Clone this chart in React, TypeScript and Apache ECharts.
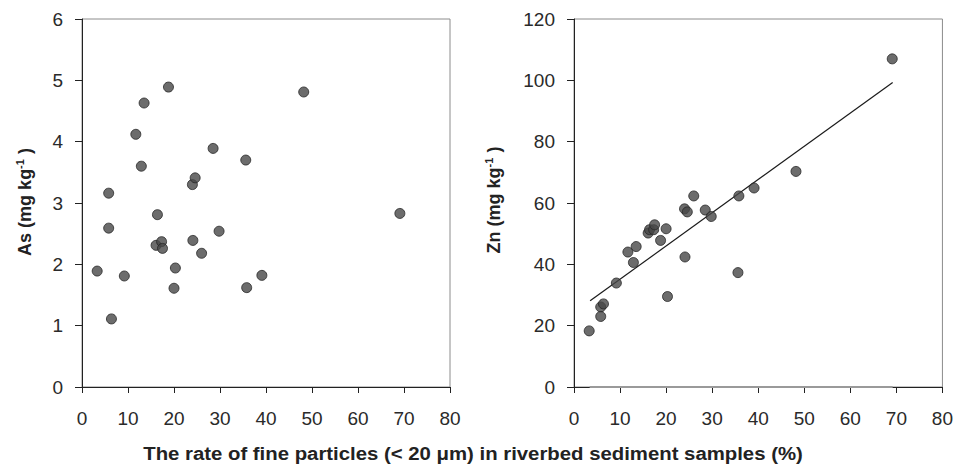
import React, { useEffect, useRef } from "react";
import * as echarts from "echarts";

// Fine-particle rate (%) of each riverbed sediment sample
const fineRate = [3.3, 5.8, 5.8, 6.4, 9.2, 11.7, 12.9, 13.5, 16.1, 16.4, 17.3, 17.5, 18.8, 20.0, 20.3, 24.0, 24.1, 24.6, 26.0, 28.5, 29.8, 35.6, 35.8, 39.1, 48.2, 69.1];
// As (mg kg-1)
const asValues = [1.89, 3.16, 2.59, 1.11, 1.81, 4.12, 3.6, 4.63, 2.31, 2.81, 2.37, 2.26, 4.89, 1.61, 1.94, 3.3, 2.39, 3.41, 2.18, 3.89, 2.54, 3.7, 1.62, 1.82, 4.81, 2.83];
// Zn (mg kg-1)
const znValues = [18.3, 26.1, 23.0, 27.1, 33.9, 44.0, 40.6, 45.8, 50.2, 51.3, 51.3, 52.9, 47.8, 51.6, 29.5, 58.1, 42.4, 57.1, 62.3, 57.7, 55.6, 37.3, 62.3, 64.9, 70.3, 107.0];
// Regression line for Zn (end points)
const fitX = [3.5, 69.2];
const fitY = [28.1, 99.3];
// Zero line drawn in the Zn panel
const zeroX = [3.4, 69.2];
const zeroY = [0, 0];

const xTitle = "The rate of fine particles (< 20 \u03bcm) in riverbed sediment samples (%)";

export default function App() {
  const ref = useRef<HTMLDivElement>(null);
  useEffect(() => {
    if (!ref.current) return;
    const chart = echarts.init(ref.current, undefined, { renderer: "svg" });
    const font = "'Liberation Sans', Arial, sans-serif";
    const axisColor = "#222";
    const labelColor = "#2a2a2a";
    const xAxisBase = (gi: number) => ({
      type: "value",
      gridIndex: gi,
      min: 0,
      max: 80,
      interval: 10,
      axisLine: { show: true, onZero: false, lineStyle: { color: axisColor, width: 1 } },
      axisTick: { show: true, length: 6, lineStyle: { color: axisColor } },
      axisLabel: { fontSize: 19, color: labelColor, fontFamily: font, margin: 22 },
      splitLine: { show: false },
    });
    const yAxisBase = (gi: number, max: number, interval: number) => ({
      type: "value",
      gridIndex: gi,
      min: 0,
      max,
      interval,
      axisLine: { show: true, onZero: false, lineStyle: { color: axisColor, width: 1 } },
      axisTick: { show: true, length: 7, lineStyle: { color: axisColor } },
      axisLabel: { fontSize: 19, color: labelColor, fontFamily: font, margin: 19 },
      splitLine: { show: false },
    });
    const dot = {
      symbol: "circle",
      symbolSize: 10,
      itemStyle: { color: "#474747", borderColor: "#262626", borderWidth: 1 },
      z: 5,
    };
    const richLabel = (main: string) => ({
      text: `{a|${main} (mg kg}{s|-1}{a| )}`,
      rich: {
        a: { fontSize: 18, fontWeight: "bold", fontFamily: font, fill: "#222", lineHeight: 22 },
        s: { fontSize: 11, fontWeight: "bold", fontFamily: font, fill: "#222", lineHeight: 12, verticalAlign: "top" },
      },
      align: "center",
      verticalAlign: "middle",
    });
    chart.setOption({
      animation: false,
      grid: [
        { left: 82, top: 19, right: 506, bottom: 79, show: true, borderColor: "#8c8c8c", borderWidth: 1 },
        { left: 574, top: 19, right: 13, bottom: 79, show: true, borderColor: "#8c8c8c", borderWidth: 1 },
      ],
      xAxis: [xAxisBase(0), xAxisBase(1)],
      yAxis: [yAxisBase(0, 6, 1), yAxisBase(1, 120, 20)],
      series: [
        {
          type: "scatter",
          xAxisIndex: 0,
          yAxisIndex: 0,
          data: fineRate.map((x, i) => [x, asValues[i]]),
          ...dot,
        },
        {
          type: "line",
          xAxisIndex: 1,
          yAxisIndex: 1,
          data: zeroX.map((x, i) => [x, zeroY[i]]),
          symbol: "none",
          lineStyle: { color: "#9a9a9a", width: 2 },
          z: 3,
        },
        {
          type: "line",
          xAxisIndex: 1,
          yAxisIndex: 1,
          data: fitX.map((x, i) => [x, fitY[i]]),
          symbol: "none",
          lineStyle: { color: "#1a1a1a", width: 1.2 },
          z: 4,
        },
        {
          type: "scatter",
          xAxisIndex: 1,
          yAxisIndex: 1,
          data: fineRate.map((x, i) => [x, znValues[i]]),
          ...dot,
        },
      ],
      graphic: [
        {
          type: "text",
          x: 25,
          y: 202,
          rotation: Math.PI / 2,
          style: richLabel("As"),
        },
        {
          type: "text",
          x: 494,
          y: 200,
          rotation: Math.PI / 2,
          style: richLabel("Zn"),
        },
        {
          type: "text",
          x: 473,
          y: 453,
          scaleX: 1.1,
          style: {
            text: xTitle,
            fontSize: 18.5,
            fontWeight: "bold",
            fontFamily: font,
            fill: "#222",
            align: "center",
            verticalAlign: "middle",
          },
        },
      ],
    });
    return () => chart.dispose();
  }, []);
  return (
    <div
      ref={ref}
      style={{ position: "fixed", left: 0, top: 0, width: 956, height: 466, background: "#fff" }}
    />
  );
}
